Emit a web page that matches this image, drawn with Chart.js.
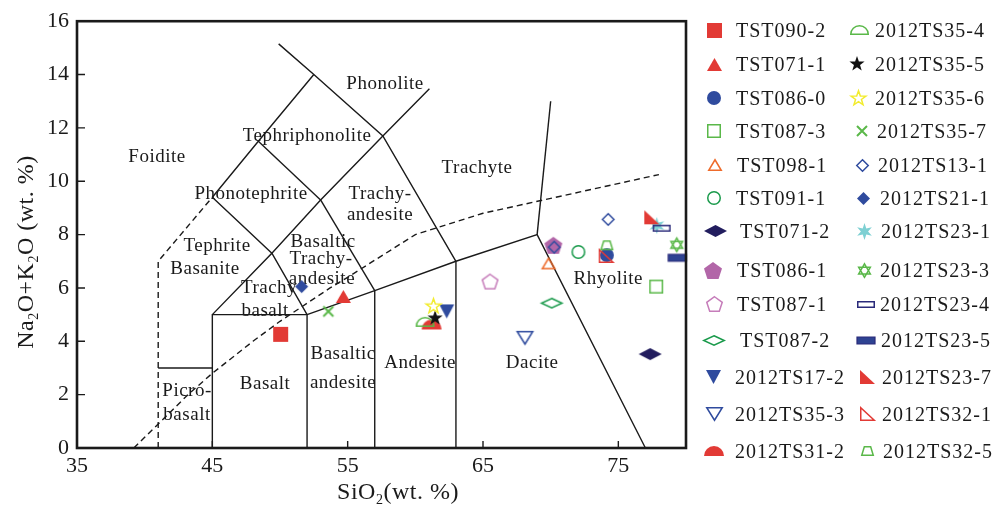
<!DOCTYPE html>
<html><head><meta charset="utf-8">
<script src="https://cdn.jsdelivr.net/npm/chart.js@4.4.1/dist/chart.umd.min.js"></script>
<style>
html,body{margin:0;padding:0;background:#fff;}
#wrap{position:relative;width:1003px;height:505px;overflow:hidden;}
#c{position:absolute;left:0;top:0;}
#legend{position:absolute;left:0;top:0;width:1003px;height:505px;pointer-events:none;font-family:"Liberation Serif","Times New Roman",serif;font-size:20px;letter-spacing:1px;color:#1a1a1a;}
.lt{position:absolute;white-space:nowrap;line-height:20px;height:20px;}
.lm{position:absolute;}
</style></head><body>
<div id="wrap"><canvas id="c" width="1003" height="505"></canvas><div id="legend"></div></div>
<script>
// ---------------- DATA ----------------
const samples = ['TST090-2','TST071-1','TST086-0','TST087-3','TST098-1','TST091-1','TST071-2','TST086-1','TST087-1','TST087-2','2012TS17-2','2012TS35-3','2012TS31-2',
 '2012TS35-4','2012TS35-5','2012TS35-6','2012TS35-7','2012TS13-1','2012TS21-1','2012TS23-1','2012TS23-3','2012TS23-4','2012TS23-5','2012TS23-7','2012TS32-1','2012TS32-5'];
const sio2 = [[50.05],[54.68],[74.15],[77.8],[69.84],[72.05],[77.35],[70.2],[65.52],[70.08],[62.32],[68.1],[61.2],
 [60.72],[61.46],[61.34],[53.57],[74.25,70.26],[51.6],[77.84],[79.32],[78.2],[79.35],[77.47],[74.1],[74.15]];
const alkali = [[4.26],[5.68],[7.23],[6.05],[6.92],[7.35],[3.52],[7.6],[6.24],[5.43],[5.12],[4.13],[4.63],
 [4.73],[4.87],[5.31],[5.12],[8.57,7.53],[6.05],[8.34],[7.62],[8.24],[7.13],[8.65],[7.2],[7.6]];
const xTicks = [35,45,55,65,75];
const yTicks = [0,2,4,6,8,10,12,14,16];
// TAS classification boundaries (SiO2, Na2O+K2O)
const tasSolid = [
 [[41,3],[45,3]],
 [[45,0],[45,5],[52,5],[52,0]],
 [[52,5],[57,5.9],[63,7],[69,8],[77,0]],
 [[57,0],[57,5.9]],
 [[63,0],[63,7]],
 [[69,8],[70,13]],
 [[45,5],[49.4,7.3],[52,5]],
 [[45,9.4],[49.4,7.3],[53,9.3],[57.6,11.7],[61.04,13.47]],
 [[53,9.3],[57,5.9]],
 [[45,9.4],[48.4,11.5],[52.5,14]],
 [[49.9,15.15],[52.5,14],[57.6,11.7],[63,7]],
 [[48.4,11.5],[53,9.3]]
];
const tasDashed = [
 [[41,0],[41,7],[45,9.4]],
 [[39.2,0],[40,0.4],[43.2,2],[45,2.8],[48,4],[50,4.75],[53.7,6],[55,6.4],[60,8],[65,8.8],[78,10.25]]
];
const regionNames = ['Phonolite','Tephriphonolite','Foidite','Trachyte','Phonotephrite','Trachy-','andesite','Tephrite','Basanite',
 'Basaltic','Trachy-','andesite','Trachy','basalt','Basaltic','andesite','Basalt','Picro-','basalt','Andesite','Dacite','Rhyolite'];
const regionAnchorX = [57.76,52.0,40.91,64.56,47.86,57.39,57.39,45.35,44.46,53.18,53.03,53.1,49.19,48.9,54.66,54.66,48.9,43.13,43.13,60.35,68.63,74.25];
const regionAnchorY = [13.66,11.69,10.91,10.5,9.54,9.51,8.72,7.57,6.72,7.72,7.09,6.35,5.99,5.12,3.53,2.45,2.41,2.15,1.22,3.19,3.19,6.35];

// ---------------- STYLES ----------------
const RED='#E23A35', BLUE='#2F4B9E', LGREEN='#5AB849', DGREEN='#1A9A4B', ORANGE='#EE6B2B', NAVY='#221D5E',
      PURPLE='#B266A8', PINK='#C67DBA', YELLOW='#F2EC2E', CYAN='#7ED0D3', NAVY2='#2A2A7A', BLUE2='#2E4392';
const markerStyles = [
 {shape:'square', color:RED, fill:true, w:15, h:15},
 {shape:'tri', color:RED, fill:true, w:15, h:13},
 {shape:'circle', color:BLUE, fill:true, w:14, h:14},
 {shape:'square', color:LGREEN, fill:false, w:14, h:14},
 {shape:'tri', color:ORANGE, fill:false, w:14, h:12},
 {shape:'circle', color:DGREEN, fill:false, w:14, h:14},
 {shape:'diamond', color:NAVY, fill:true, w:23, h:12},
 {shape:'pentagon', color:PURPLE, fill:true, w:18, h:17},
 {shape:'pentagon', color:PINK, fill:false, w:17, h:16},
 {shape:'diamond', color:DGREEN, fill:false, w:22, h:11},
 {shape:'triDown', color:BLUE, fill:true, w:15, h:14},
 {shape:'triDown', color:BLUE, fill:false, w:17, h:14},
 {shape:'dome', color:RED, fill:true, w:20, h:10},
 {shape:'dome', color:LGREEN, fill:false, w:19, h:10},
 {shape:'star5', color:'#111', fill:true, w:16, h:16},
 {shape:'star5', color:YELLOW, fill:false, w:17, h:17},
 {shape:'x', color:LGREEN, fill:false, w:12, h:12},
 {shape:'diamond', color:BLUE, fill:false, w:13, h:13},
 {shape:'diamond', color:BLUE, fill:true, w:13, h:13},
 {shape:'star6', color:CYAN, fill:true, w:17, h:17},
 {shape:'david', color:LGREEN, fill:false, w:15, h:15},
 {shape:'bar', color:NAVY2, fill:false, w:18, h:7},
 {shape:'bar', color:BLUE2, fill:true, w:18, h:7, stroke:NAVY2},
 {shape:'rtri', color:RED, fill:true, w:15, h:14},
 {shape:'rtri', color:RED, fill:false, w:15, h:14},
 {shape:'trap', color:LGREEN, fill:false, w:13, h:10}
];
const legendRowY = [30,64,98,131,165,198,231,270,304,340,377,414,451];
const legendMarkX = [714,714,714,714,715,714,715,713,714,714,713,714,714, 859,857,858,862,862,863,864,864,866,866,867,867,867];
const legendTextX = [736,736,736,736,737,736,740,737,737,740,735,735,735, 875,875,875,877,878,880,881,880,880,881,882,882,883];

function makeMarker(s){
  const lw = s.shape==='x' ? 2 : 1.5;
  const pad = 3;
  const c = document.createElement('canvas');
  c.width = Math.ceil(s.w + pad*2); c.height = Math.ceil(s.h + pad*2);
  const g = c.getContext('2d');
  g.translate(c.width/2, c.height/2);
  g.fillStyle = s.color; g.strokeStyle = s.stroke || s.color; g.lineWidth = lw; g.lineJoin = 'miter';
  const ins = s.fill ? 0 : lw/2;
  const hw = s.w/2 - ins, hh = s.h/2 - ins;
  g.beginPath();
  switch(s.shape){
    case 'square': case 'bar': g.rect(-hw,-hh,2*hw,2*hh); break;
    case 'tri': g.moveTo(0,-hh); g.lineTo(hw,hh); g.lineTo(-hw,hh); g.closePath(); break;
    case 'triDown': g.moveTo(-hw,-hh); g.lineTo(hw,-hh); g.lineTo(0,hh); g.closePath(); break;
    case 'circle': g.ellipse(0,0,hw,hh,0,0,Math.PI*2); break;
    case 'diamond': g.moveTo(0,-hh); g.lineTo(hw,0); g.lineTo(0,hh); g.lineTo(-hw,0); g.closePath(); break;
    case 'pentagon': {
      const R = hh*2/1.809, off = 0.0955*R;
      for(let k=0;k<5;k++){const a=-Math.PI/2+k*2*Math.PI/5; const px=R*Math.cos(a)*(hw/(0.951*R)), py=R*Math.sin(a)+off; k?g.lineTo(px,py):g.moveTo(px,py);} g.closePath(); break; }
    case 'dome': g.moveTo(-hw,hh); g.ellipse(0,hh,hw,2*hh,0,Math.PI,2*Math.PI); g.closePath(); break;
    case 'star5': case 'star6': {
      const n = s.shape==='star5'?5:6, R = hh, r = s.shape==='star5'? R*0.4 : R*0.42;
      for(let k=0;k<2*n;k++){const a=-Math.PI/2+k*Math.PI/n; const rr=k%2?r:R; const px=rr*Math.cos(a), py=rr*Math.sin(a); k?g.lineTo(px,py):g.moveTo(px,py);} g.closePath(); break; }
    case 'x': g.moveTo(-hw,-hh); g.lineTo(hw,hh); g.moveTo(hw,-hh); g.lineTo(-hw,hh); break;
    case 'david': {
      const R = hh;
      for(let t=0;t<2;t++){ for(let k=0;k<3;k++){const a=(t?Math.PI/2:-Math.PI/2)+k*2*Math.PI/3; const px=R*Math.cos(a), py=R*Math.sin(a); k?g.lineTo(px,py):g.moveTo(px,py);} g.closePath(); }
      break; }
    case 'rtri': g.moveTo(-hw,-hh); g.lineTo(-hw,hh); g.lineTo(hw,hh); g.closePath(); break;
    case 'trap': g.moveTo(-hw*0.55,-hh); g.lineTo(hw*0.55,-hh); g.lineTo(hw,hh); g.lineTo(-hw,hh); g.closePath(); break;
  }
  if (s.fill){ g.fill(); if (s.stroke){ g.lineWidth=1.2; g.stroke(); } } else g.stroke();
  return c;
}
const markers = markerStyles.map(makeMarker);

// ---------------- DATASETS ----------------
const boundaryDatasets = [
  ...tasSolid.map(seg => ({data: seg.map(([x,y])=>({x,y})), showLine:true, borderColor:'#1a1a1a', borderWidth:1.4, pointRadius:0, pointHoverRadius:0, order:100, clip:false, boundary:true})),
  ...tasDashed.map(seg => ({data: seg.map(([x,y])=>({x,y})), showLine:true, borderColor:'#1a1a1a', borderWidth:1.4, borderDash:[6,4], pointRadius:0, pointHoverRadius:0, order:100, clip:false, boundary:true}))
];
const sampleDatasets = samples.map((name,i)=>({
  label:name,
  data: sio2[i].map((x,j)=>({x, y:alkali[i][j]})),
  pointStyle: markers[i], pointRadius: 8, pointHoverRadius: 8,
  showLine:false, order:-i, clip:false
}));

const SERIF = '"Liberation Serif","Times New Roman",serif';
function drawRich(ctx, parts, cx, baseY, size){
  const sub = Math.round(size*0.6);
  const widths = parts.map(p=>{ctx.font=(p.s?sub:size)+'px '+SERIF; return ctx.measureText(p.t).width;});
  const total = widths.reduce((a,b)=>a+b,0);
  let x = cx - total/2;
  ctx.textAlign='left'; ctx.textBaseline='alphabetic';
  parts.forEach((p,i)=>{ctx.font=(p.s?sub:size)+'px '+SERIF; ctx.fillText(p.t, x, baseY + (p.s? size*0.2 : 0)); x += widths[i];});
}

const tasPlugin = {
  id:'tas',
  beforeDatasetsDraw(chart){
    const {ctx, scales:{x,y}} = chart;
    ctx.save();
    ctx.fillStyle='#1a1a1a';
    ctx.font='19px '+SERIF;
    ctx.letterSpacing='0.5px';
    ctx.textAlign='center'; ctx.textBaseline='middle';
    regionNames.forEach((t,i)=>ctx.fillText(t, x.getPixelForValue(regionAnchorX[i]), y.getPixelForValue(regionAnchorY[i])));
    ctx.restore();
  },
  afterDraw(chart){
    const {ctx, chartArea:a, scales:{x,y}} = chart;
    ctx.save();
    ctx.strokeStyle='#1a1a1a'; ctx.lineWidth=2.6;
    ctx.strokeRect(a.left, a.top, a.right-a.left, a.bottom-a.top);
    ctx.lineWidth=1.4;
    ctx.beginPath();
    yTicks.slice(1,-1).forEach(v=>{const py=y.getPixelForValue(v); ctx.moveTo(a.left, py); ctx.lineTo(a.left+8, py);});
    xTicks.slice(1).forEach(v=>{const px=x.getPixelForValue(v); ctx.moveTo(px, a.bottom); ctx.lineTo(px, a.bottom-7);});
    ctx.stroke();
    ctx.fillStyle='#1a1a1a';
    ctx.letterSpacing='0.5px';
    drawRich(ctx, [{t:'SiO'},{t:'2',s:true},{t:'(wt. %)'}], 398, 499, 24);
    ctx.translate(33, 252); ctx.rotate(-Math.PI/2);
    drawRich(ctx, [{t:'Na'},{t:'2',s:true},{t:'O+K'},{t:'2',s:true},{t:'O (wt. %)'}], 0, 0, 24);
    ctx.restore();
  }
};

const chart = new Chart(document.getElementById('c').getContext('2d'), {
  type:'scatter',
  data:{datasets:[...boundaryDatasets, ...sampleDatasets]},
  options:{
    responsive:false, animation:false, devicePixelRatio:1,
    layout:{padding:{left:0, right:317, top:17, bottom:0}},
    plugins:{legend:{display:false}, tooltip:{enabled:false}},
    events:[],
    scales:{
      x:{type:'linear', min:35, max:80,
         afterBuildTicks:s=>{s.ticks = xTicks.map(v=>({value:v}));},
         afterFit:s=>{s.height = 57;},
         grid:{display:false, drawTicks:false}, border:{display:false},
         ticks:{font:{family:SERIF, size:22}, color:'#1a1a1a', padding:5, maxRotation:0, autoSkip:false}},
      y:{type:'linear', min:0, max:16,
         afterBuildTicks:s=>{s.ticks = yTicks.map(v=>({value:v}));},
         afterFit:s=>{s.width = 77;},
         grid:{display:false, drawTicks:false}, border:{display:false},
         ticks:{font:{family:SERIF, size:22}, color:'#1a1a1a', padding:8, autoSkip:false}}
    }
  },
  plugins:[tasPlugin]
});

// ---------------- LEGEND (HTML) ----------------
const leg = document.getElementById('legend');
samples.forEach((name,i)=>{
  const row = i % 13, yc = legendRowY[row];
  const m = document.createElement('canvas');
  m.width = markers[i].width; m.height = markers[i].height; m.className='lm';
  m.getContext('2d').drawImage(markers[i],0,0);
  m.style.left = (legendMarkX[i] - m.width/2) + 'px';
  m.style.top = (yc - m.height/2) + 'px';
  leg.appendChild(m);
  const t = document.createElement('div');
  t.className='lt'; t.textContent = name;
  t.style.left = legendTextX[i]+'px'; t.style.top = (yc-10)+'px';
  leg.appendChild(t);
});
</script>
</body></html>
